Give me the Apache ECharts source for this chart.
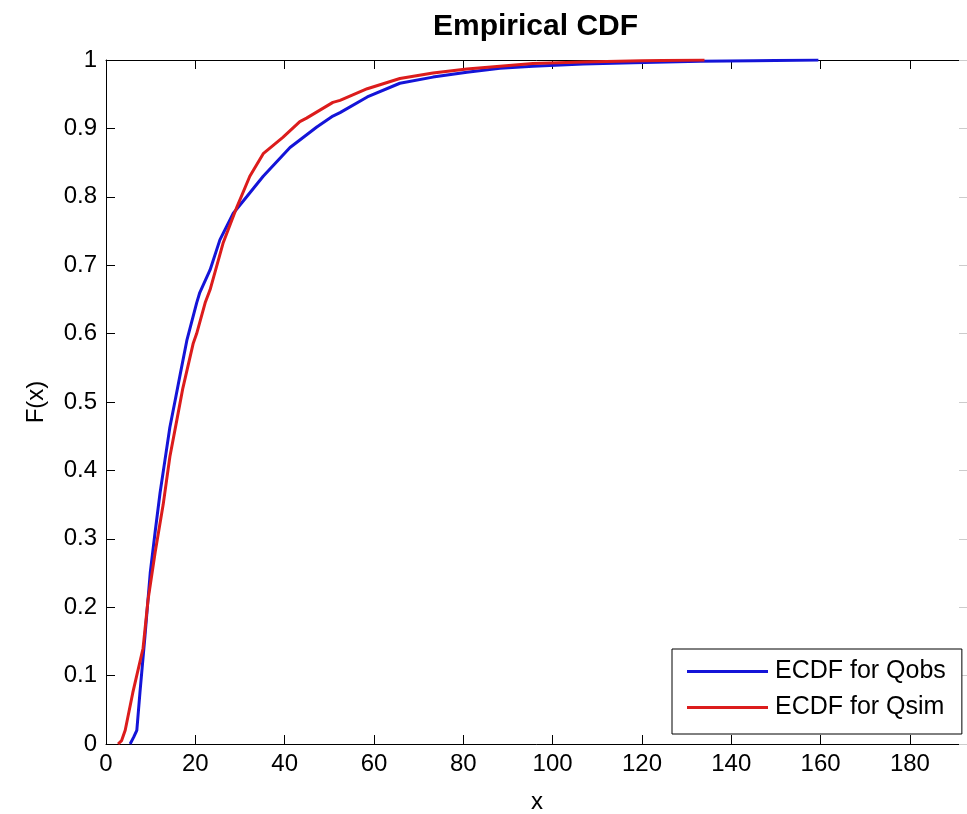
<!DOCTYPE html>
<html>
<head>
<meta charset="utf-8">
<title>Empirical CDF</title>
<script src="https://cdn.jsdelivr.net/npm/echarts@6/dist/echarts.min.js"></script>
<style>
    html, body { margin: 0; padding: 0; background: #fff; overflow: hidden; }
    #chart { width: 967px; height: 814px; }
</style>
</head>
<body>
<div id="chart"></div>
<script>
// values
var obsX = [5.4, 6.2, 6.9, 7.6, 8.7, 9.9, 11, 12.1, 13.2, 14.3, 15.5, 16.6, 18.1, 20.3, 21, 23.3, 25.5, 28.5, 31.5, 35.2,
    41.2, 43.4, 47.2, 50.8, 52.4, 58.5, 65.8, 73.2, 80.8, 88.2, 95.6, 106.8, 118, 133, 145, 159.5];
var obsF = [0, 0.01, 0.02, 0.075, 0.156, 0.25, 0.31, 0.367, 0.415, 0.463, 0.503, 0.54, 0.59, 0.645, 0.66, 0.693, 0.737, 0.776, 0.8, 0.83,
    0.872, 0.883, 0.902, 0.918, 0.923, 0.946, 0.966, 0.975, 0.982, 0.988, 0.991, 0.994, 0.996, 0.998, 0.999, 1];

var simX = [2.7, 3.5, 4.3, 6.0, 8.3, 9.4, 11, 12.8, 14.3, 15.9, 17.2, 19.5, 20.3, 22.2, 23.3, 26.2, 29.3, 32.2, 35.2, 39.6,
    43.4, 44.9, 50.8, 52.4, 58.5, 65.8, 73.2, 80.8, 88.2, 95.6, 106.8, 120, 134];
var simF = [0, 0.005, 0.02, 0.075, 0.14, 0.21, 0.28, 0.35, 0.42, 0.475, 0.52, 0.585, 0.6, 0.645, 0.664, 0.732, 0.785, 0.83, 0.863, 0.887,
    0.91, 0.915, 0.938, 0.941, 0.958, 0.973, 0.981, 0.987, 0.991, 0.995, 0.997, 0.999, 1];

var seriesNames = ['ECDF for Qobs', 'ECDF for Qsim'];
var xTicks = [0, 20, 40, 60, 80, 100, 120, 140, 160, 180];

var font = 'Liberation Sans, Arial, sans-serif';

function pairs(xs, ys){
    var out = [];
    for(var i = 0; i < xs.length; i++){
        out.push([xs[i], ys[i]]);
    }
    return out;
}

var myChart = echarts.init(document.getElementById('chart'));
var option = {
    animation: false,
    backgroundColor: '#fff',
    title: {
        text: 'Empirical CDF',
        left: 433,
        top: 12,
        padding: 0,
        textStyle: { fontFamily: font, fontSize: 30, fontWeight: 'bold', color: '#000' }
    },
    legend: {
        orient: 'vertical',
        left: 672,
        top: 649,
        data: seriesNames,
        icon: 'path://M0,0 H81 V3 H0 Z',
        itemWidth: 81,
        itemHeight: 3,
        itemGap: 11,
        padding: [10, 16, 14, 15],
        borderColor: '#000',
        borderWidth: 1,
        backgroundColor: '#fff',
        textStyle: { fontFamily: font, fontSize: 25, color: '#000', padding: [0, 0, 0, 2] }
    },
    grid: { left: 106, right: -1, top: 60, bottom: 70, outerBoundsMode: 'none' },
    xAxis: [
        {
            type: 'value',
            min: 0,
            max: 193,
            interval: 20,
            name: 'x',
            nameLocation: 'middle',
            nameGap: 46,
            nameTextStyle: { fontFamily: font, fontSize: 24, color: '#000' },
            axisLine: { onZero: false, lineStyle: { color: '#000', width: 1 } },
            axisTick: { inside: true, length: 9, lineStyle: { color: '#000' } },
            axisLabel: {
                fontFamily: font, fontSize: 24, color: '#000', margin: 8,
                formatter: function(v){ return xTicks.indexOf(v) >= 0 ? String(v) : ''; }
            },
            splitLine: { show: false }
        },
        {
            type: 'value',
            position: 'top',
            min: 0,
            max: 193,
            interval: 20,
            axisLine: { onZero: false, lineStyle: { color: '#000', width: 1 } },
            axisTick: { inside: true, length: 9, lineStyle: { color: '#000' } },
            axisLabel: { show: false },
            splitLine: { show: false }
        }
    ],
    yAxis: [
        {
            type: 'value',
            min: 0,
            max: 1,
            interval: 0.1,
            name: 'F(x)',
            nameLocation: 'middle',
            nameRotate: 90,
            nameGap: 58,
            nameTextStyle: { fontFamily: font, fontSize: 24, color: '#000' },
            axisLine: { show: true, onZero: false, lineStyle: { color: '#000', width: 1 } },
            axisTick: { show: true, inside: true, length: 9, lineStyle: { color: '#000' } },
            axisLabel: { fontFamily: font, fontSize: 24, color: '#000', margin: 9 },
            splitLine: { show: false }
        },
        {
            type: 'value',
            position: 'right',
            min: 0,
            max: 1,
            interval: 0.1,
            axisLine: { show: true, onZero: false, lineStyle: { color: '#000', width: 1 } },
            axisTick: { show: true, inside: true, length: 9, lineStyle: { color: '#ccc' } },
            axisLabel: { show: false },
            splitLine: { show: false }
        }
    ],
    series: [
        {
            name: seriesNames[0],
            type: 'line',
            symbol: 'none',
            color: '#1414d8',
            lineStyle: { width: 3, color: '#1414d8' },
            data: pairs(obsX, obsF)
        },
        {
            name: seriesNames[1],
            type: 'line',
            symbol: 'none',
            color: '#dc1c1c',
            lineStyle: { width: 3, color: '#dc1c1c' },
            data: pairs(simX, simF)
        }
    ]
};
myChart.setOption(option);
</script>
</body>
</html>
